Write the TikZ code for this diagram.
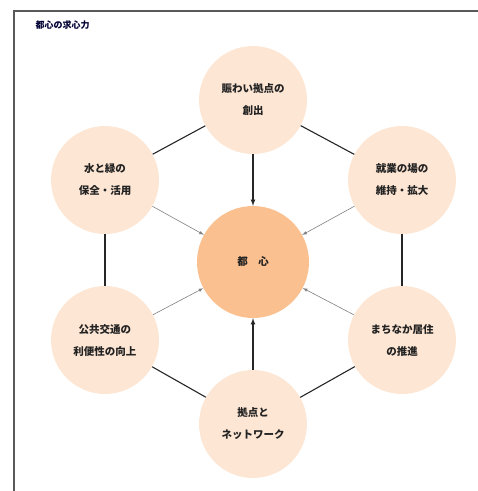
\documentclass[tikz,border=0pt]{standalone}
\usepackage{fontspec}
\setmainfont{Noto Sans CJK JP}
\usepackage{xcolor}
\definecolor{usucha}{HTML}{FDE6D4}
\definecolor{daidai}{HTML}{FAC08F}
\definecolor{moji}{HTML}{222222}
\usetikzlibrary{arrows}

\tikzset{
  sakura/.style={circle,fill=usucha,minimum size=108pt,inner sep=0pt,align=center,
    font=\fontsize{10.5}{22}\selectfont\bfseries,text=moji},
  hen/.style={line width=1.1pt,black!85},
  yaji/.style={->,line width=1.1pt,black!85},
  usuyaji/.style={->,line width=0.6pt,black!50}
}

\begin{document}
\begin{tikzpicture}[>=latex,x=1pt,y=-1pt]
          \useasboundingbox (0,0) rectangle (478,491);
          \draw[line width=1.4pt,black!65] (14,491) -- (14,11) -- (478,11);
          \node[anchor=west,font=\fontsize{9}{10}\selectfont\bfseries,text=blue!20!black] (midashi) at (32,25) {都心の求心力};
          \node[sakura,fill=daidai,minimum size=112pt] (toshin) at (253,262) {都　心};
          \node[sakura] (nigiwai) at (253,100) {賑わい拠点の\\創出};
          \node[sakura] (mizu) at (105,180) {水と緑の\\保全・活用};
          \node[sakura] (shugyo) at (402,180) {就業の場の\\維持・拡大};
          \node[sakura] (kotsu) at (105,340) {公共交通の\\利便性の向上};
          \node[sakura] (kyoju) at (402,340) {まちなか居住\\の推進};
          \node[sakura] (kyoten) at (253,424) {拠点と\\ネットワーク};
          % hexagon
          \draw[hen] (nigiwai) -- (mizu);
          \draw[hen] (mizu) -- (kotsu);
          \draw[hen] (kotsu) -- (kyoten);
          \draw[hen] (kyoten) -- (kyoju);
          \draw[hen] (kyoju) -- (shugyo);
          \draw[hen] (shugyo) -- (nigiwai);
          % to the centre
          \draw[yaji] (nigiwai) -- (toshin);
          \draw[yaji] (kyoten) -- (toshin);
          \draw[usuyaji] (mizu) -- (toshin);
          \draw[usuyaji] (shugyo) -- (toshin);
          \draw[usuyaji] (kotsu) -- (toshin);
          \draw[usuyaji] (kyoju) -- (toshin);
        \end{tikzpicture}
\end{document}
